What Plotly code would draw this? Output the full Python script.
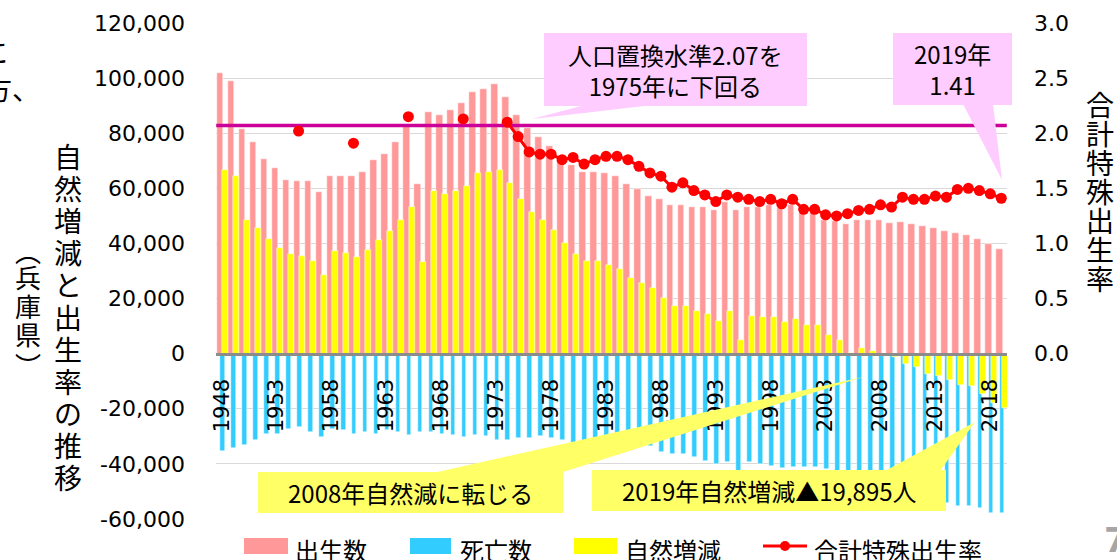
import plotly.graph_objects as go

# ---------------- data ----------------
years = list(range(1948, 2020))

births = [
    102000, 99000, 81500, 76700, 70800, 67300, 63200, 62500, 62500, 58500,   # 1948-1957
    64300, 64300, 64400, 66100, 70300, 72500, 76700, 82600, 61500, 87800,    # 1958-1967
    86600, 88400, 90800, 94900, 95900, 97800, 93100, 86600, 82000, 78500,    # 1968-1977
    75500, 71500, 68600, 66000, 66000, 65500, 64300, 61400, 59600, 57300,    # 1978-1987
    56100, 53800, 53800, 53200, 53200, 52000, 54900, 52000, 53100, 53300,    # 1988-1997
    54100, 53000, 54100, 51600, 51300, 48600, 48000, 47200, 48400, 48400,    # 1998-2007
    48400, 47400, 47800, 47200, 46200, 45600, 44400, 43900, 43200, 41500,    # 2008-2017
    39800, 37900,                                                            # 2018-2019
]

deaths = [
    -35400, -34200, -33000, -31200, -29000, -29000, -27200, -26600, -28400, -30200,
    -27200, -27800, -29000, -28400, -29000, -27800, -28400, -29600, -28400, -28400,
    -29000, -29600, -30200, -29600, -30000, -31200, -31300, -30600, -30500, -30000,
    -30600, -31400, -32400, -32300, -32400, -33500, -33500, -34100, -34000, -33500,
    -35800, -36400, -36400, -37600, -38800, -40000, -39300, -46900, -39300, -40100,
    -40800, -41600, -41100, -41300, -41000, -41800, -43000, -46900, -46300, -47400,
    -49100, -48700, -51400, -52000, -53400, -53600, -54100, -55100, -55100, -56100,
    -57700, -57800,
]

natural = [
    66700, 64600, 48500, 45500, 41500, 38400, 36100, 35600, 33800, 28400,
    37200, 36700, 35200, 37500, 41400, 44500, 48500, 53100, 33200, 59200,
    57800, 59000, 60800, 65400, 66000, 66700, 61900, 56100, 51500, 48600,
    44900, 40100, 36300, 33700, 33700, 32000, 30800, 27300, 25600, 23900,
    20300, 17400, 17400, 15600, 14400, 12000, 15500, 5100, 13800, 13200,
    13200, 11500, 12700, 10300, 10300, 6800, 5000, 300, 2100, 1000,
    -700, -1300, -3600, -4800, -7200, -8000, -9700, -11200, -11900, -14600,
    -17900, -19895,
]

tfr = [
    None, None, None, None, None, None, None, 2.02, None, None,
    None, None, 1.91, None, None, None, None, 2.15, None, None,
    None, None, 2.13, None, None, None, 2.10, 1.97, 1.83, 1.81,
    1.81, 1.76, 1.78, 1.72, 1.76, 1.79, 1.79, 1.76, 1.70, 1.64,
    1.61, 1.51, 1.55, 1.48, 1.44, 1.38, 1.44, 1.42, 1.40, 1.38,
    1.40, 1.36, 1.40, 1.31, 1.31, 1.26, 1.25, 1.27, 1.30, 1.31,
    1.35, 1.33, 1.42, 1.40, 1.40, 1.43, 1.42, 1.49, 1.50, 1.48,
    1.45, 1.41,
]

replacement_level = 2.07

x_tick_years = list(range(1948, 2019, 5))
left_ticks = list(range(-60000, 120001, 20000))
left_tick_text = [f"{v:,}" for v in left_ticks]
right_ticks = [0.0, 0.5, 1.0, 1.5, 2.0, 2.5, 3.0]

series_names = ["出生数", "死亡数", "自然増減", "合計特殊出生率"]
left_title = "自然増減と出生率の推移"
left_subtitle = ["︵", "兵", "庫", "県", "︶"]
right_title = "合計特殊出生率"
callout1 = "人口置換水準2.07を<br>1975年に下回る"
callout2 = "2019年<br>1.41"
callout3 = "2008年自然減に転じる"
callout4 = "2019年自然増減▲19,895人"

# ---------------- styling / layout helpers ----------------
W, H = 1117, 560
PL, PR, PT, PB = 216, 1007, 23, 519          # plot area in pixels
FONT = "DejaVu Sans, Noto Sans CJK JP"
JFONT = "Noto Sans CJK JP, DejaVu Sans"

C_BIRTH = "#FF9999"
C_DEATH = "#33CCFF"
C_NAT = "#FFFF00"
C_TFR = "#FF0000"
C_REPL = "#CC0099"
C_PINKBOX = "#FFCCFF"
C_YELBOX = "#FFFF66"


def px(x):
    return (x - PL) / (PR - PL)


def py(y):
    return (PB - y) / (PB - PT)


fig = go.Figure()

fig.add_bar(x=years, y=births, offset=-0.455, width=0.6, name=series_names[0],
            marker=dict(color=C_BIRTH, line=dict(color="white", width=0.5)),
            showlegend=False)
fig.add_bar(x=years, y=deaths, offset=-0.155, width=0.43, name=series_names[1],
            marker=dict(color=C_DEATH, line=dict(color="white", width=0.5)),
            showlegend=False)
fig.add_bar(x=years, y=natural, offset=0.027, width=0.546, name=series_names[2],
            marker=dict(color=C_NAT, line=dict(color="white", width=0.5)),
            showlegend=False)
fig.add_scatter(x=[years[0] - 0.5, years[-1] + 0.5], y=[replacement_level] * 2,
                yaxis="y2", mode="lines", line=dict(color=C_REPL, width=3.5),
                hoverinfo="skip", showlegend=False)
fig.add_scatter(x=years, y=tfr, yaxis="y2", mode="lines+markers",
                name=series_names[3], connectgaps=False,
                line=dict(color=C_TFR, width=3),
                marker=dict(color=C_TFR, size=11), showlegend=False)

shapes = []
annotations = []


def box(x0, y0, x1, y1, color):
    shapes.append(dict(type="rect", xref="paper", yref="paper",
                       x0=px(x0), x1=px(x1), y0=py(y1), y1=py(y0),
                       fillcolor=color, line=dict(width=0), layer="above"))


def wedge(pts, color):
    path = "M " + " L ".join(f"{px(a)},{py(b)}" for a, b in pts) + " Z"
    shapes.append(dict(type="path", xref="paper", yref="paper", path=path,
                       fillcolor=color, line=dict(width=0), layer="above"))


def text(x, y, s, size, xanchor="center", color="black", family=JFONT):
    annotations.append(dict(x=px(x), y=py(y), xref="paper", yref="paper",
                            text=s, showarrow=False, xanchor=xanchor,
                            yanchor="middle",
                            font=dict(size=size, color=color, family=family)))


box(544, 33, 807, 106, C_PINKBOX)
wedge([(585, 105), (653, 105), (532, 119)], C_PINKBOX)
text(675.5, 69.5, callout1, 24)

box(893, 33, 1012, 105, C_PINKBOX)
wedge([(963, 104), (993, 104), (1002, 180)], C_PINKBOX)
text(952.5, 69, callout2, 24)

box(258, 472, 563, 513, C_YELBOX)
wedge([(433, 473), (560, 473), (863, 377)], C_YELBOX)
text(410.5, 492.5, callout3, 24)

box(592, 470, 946, 511, C_YELBOX)
wedge([(885, 471), (940, 471), (975, 422)], C_YELBOX)
text(769, 490.5, callout4, 24)

# axis titles (vertical, upright characters)
for i, ch in enumerate(left_title):
    text(68, 156 + 32.1 * i, ch, 28)
for ych, ch in zip([250, 276, 305, 333, 364], left_subtitle):
    text(28, ych, ch, 26)
for i, ch in enumerate(right_title):
    text(1100, 104 + 29 * i, ch, 28)

# cropped fragments of the surrounding slide
text(10, 51, "に", 28, xanchor="right")
text(42, 88, "方、", 28, xanchor="right")
annotations.append(dict(x=px(1102), y=py(540), xref="paper", yref="paper",
                        text="<b>7</b>", showarrow=False, xanchor="left",
                        yanchor="middle",
                        font=dict(size=34, color="#A6A6A6", family=FONT)))


def swatch(x0, x1, color):
    shapes.append(dict(type="rect", xref="paper", yref="paper",
                       x0=px(x0), x1=px(x1), y0=py(554), y1=py(538),
                       fillcolor=color, line=dict(width=0)))


swatch(244, 288, C_BIRTH)
text(293, 549, series_names[0], 24, xanchor="left")
swatch(410, 451, C_DEATH)
text(458, 549, series_names[1], 24, xanchor="left")
swatch(574, 617, C_NAT)
text(623, 549, series_names[2], 24, xanchor="left")
shapes.append(dict(type="line", xref="paper", yref="paper",
                   x0=px(763), x1=px(807), y0=py(546), y1=py(546),
                   line=dict(color=C_TFR, width=3)))
shapes.append(dict(type="circle", xref="paper", yref="paper",
                   x0=px(780), x1=px(790), y0=py(551), y1=py(541),
                   fillcolor=C_TFR, line=dict(width=0)))
text(812, 549, series_names[3], 24, xanchor="left")

fig.update_layout(
    width=W, height=H,
    margin=dict(l=PL, r=W - PR, t=PT, b=H - PB, pad=0, autoexpand=False),
    paper_bgcolor="white", plot_bgcolor="white",
    font=dict(family=FONT, size=21, color="black"),
    barmode="overlay", bargap=0,
    showlegend=False,
    xaxis=dict(range=[1947.48, 2019.52], tickmode="array", tickvals=x_tick_years,
               tickangle=-90, anchor="free", position=1 / 3, automargin=False,
               showline=True, linecolor="#8C8C8C", linewidth=2.5,
               showgrid=False, zeroline=False, ticks="",
               ticklabelstandoff=15, tickfont=dict(size=21)),
    yaxis=dict(range=[-60000, 120000], tickmode="array", tickvals=left_ticks,
               ticktext=left_tick_text,
               showgrid=True, gridcolor="#D9D9D9", gridwidth=1,
               zeroline=False, showline=False, ticks="", automargin=False,
               ticklabelstandoff=30, tickfont=dict(size=22)),
    yaxis2=dict(range=[-1.5, 3.0], overlaying="y", side="right",
                tickmode="array", tickvals=right_ticks, tickformat=".1f",
                showgrid=False, zeroline=False, showline=False, ticks="",
                automargin=False,
                ticklabelstandoff=26, tickfont=dict(size=22)),
    shapes=shapes,
    annotations=annotations,
)

fig.write_html("out.html", config={"displayModeBar": False},
               post_script="document.body.style.margin='0px';")
